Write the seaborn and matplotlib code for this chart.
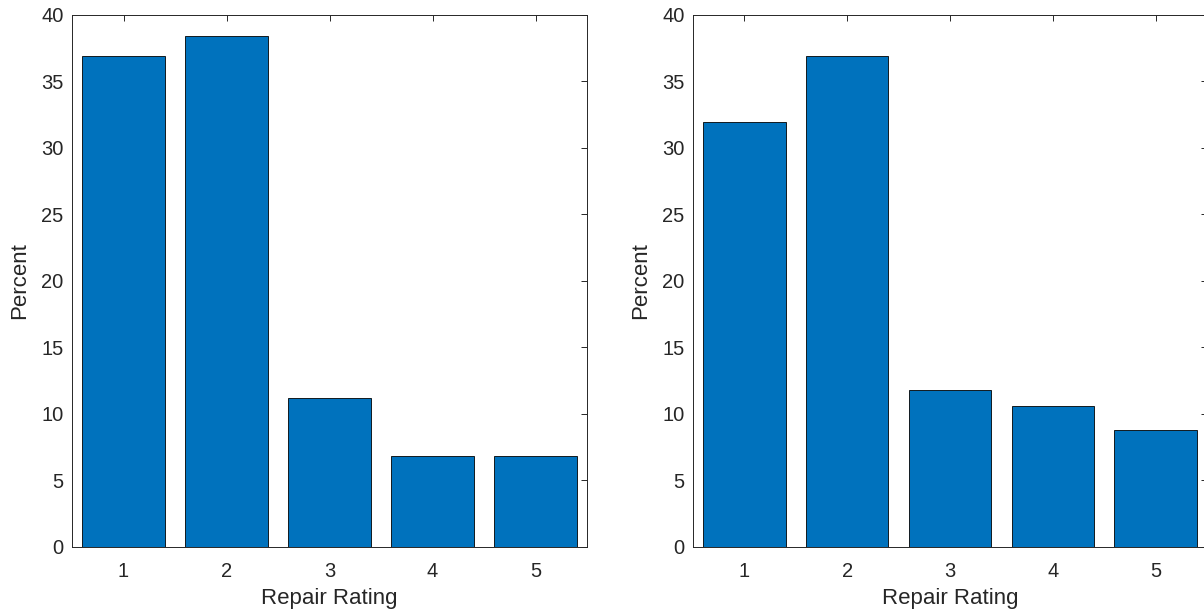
import matplotlib
matplotlib.use("Agg")
import matplotlib.pyplot as plt
import seaborn as sns
import pandas as pd

ratings = [1, 2, 3, 4, 5]
percent_left = [36.9, 38.35, 11.2, 6.84, 6.84]
percent_right = [31.95, 36.9, 11.76, 10.6, 8.76]
y_ticks = [0, 5, 10, 15, 20, 25, 30, 35, 40]

sns.set_theme(style="white")
plt.rcParams["font.family"] = ["Liberation Sans", "DejaVu Sans"]

bar_color = "#0072BD"
ink = "#262626"

fig = plt.figure(figsize=(12.04, 6.16), dpi=100)
W, H = 1204, 616
ax_left = fig.add_axes([72 / W, (H - 547) / H, 515 / W, 532.5 / H])
ax_right = fig.add_axes([693 / W, (H - 547) / H, 514 / W, 532.5 / H])

for ax, vals in ((ax_left, percent_left), (ax_right, percent_right)):
    df = pd.DataFrame({"rating": ratings, "percent": vals})
    sns.barplot(data=df, x="rating", y="percent", native_scale=True,
                width=0.8, color=bar_color, saturation=1,
                edgecolor="black", linewidth=0.6, ax=ax)
    ax.set_xlim(0.5, 5.5)
    ax.set_ylim(0, 40)
    ax.set_xticks(ratings)
    ax.set_xticklabels([str(r) for r in ratings])
    ax.set_yticks(y_ticks)
    ax.tick_params(direction="in", length=4, width=0.7, colors=ink,
                   labelsize=14.5, top=True, right=True)
    ax.tick_params(axis="x", pad=11)
    ax.tick_params(axis="y", pad=6)
    for s in ax.spines.values():
        s.set_visible(True)
        s.set_color(ink)
        s.set_linewidth(0.7)
    ax.set_xlabel("Repair Rating", fontsize=16, color=ink, labelpad=5)
    ax.set_ylabel("Percent", fontsize=16, color=ink, labelpad=8)
    ax.set_facecolor("white")

fig.savefig("out.png", dpi=100, facecolor="white")
